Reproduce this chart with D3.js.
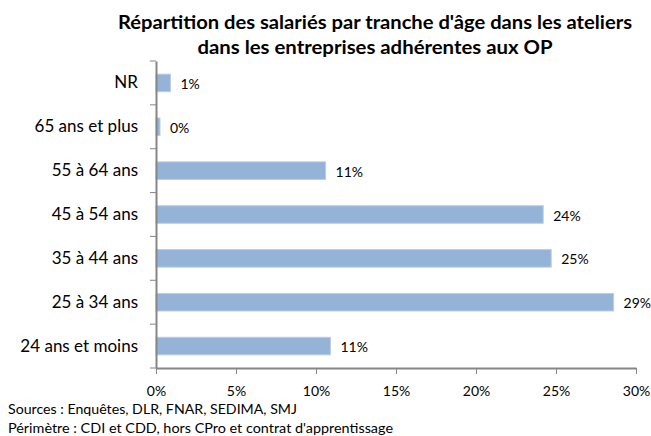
<!DOCTYPE html>
<html>
<head>
<meta charset="utf-8">
<script src="https://cdn.jsdelivr.net/npm/d3@7"></script>
<style>
  body { margin: 0; background: #fff; }
  svg { display: block; font-family: Lato, "Open Sans", sans-serif; }
</style>
</head>
<body>
<svg id="chart" width="651" height="436"></svg>
<script>
// data, top to bottom as shown
const categories = ['NR', '65 ans et plus', '55 à 64 ans', '45 à 54 ans', '35 à 44 ans', '25 à 34 ans', '24 ans et moins'];
const values = [0.9, 0.25, 10.6, 24.2, 24.7, 28.6, 10.9];
const valueLabels = ['1%', '0%', '11%', '24%', '25%', '29%', '11%'];
const xTicks = [0, 5, 10, 15, 20, 25, 30];
const titleLines = ["Répartition des salariés par tranche d'âge dans les ateliers", 'dans les entreprises adhérentes aux OP'];
const notes = ['Sources : Enquêtes, DLR, FNAR, SEDIMA, SMJ', "Périmètre : CDI et CDD, hors CPro et contrat d'apprentissage"];

const svg = d3.select('#chart');
const axisColor = '#868686';

const x = d3.scaleLinear().domain([0, 30]).range([156, 636]);
const y = d3.scaleBand().domain(categories).range([61, 368]).paddingInner(0.6).paddingOuter(0.3);

// title, widths matched to the original
const titleWidths = [514, 355];
svg.append('g')
  .selectAll('text')
  .data(titleLines)
  .enter()
  .append('text')
  .attr('x', 375)
  .attr('y', (d, i) => 29 + i * 25)
  .attr('text-anchor', 'middle')
  .attr('font-size', 19)
  .attr('font-weight', 'bold')
  .attr('fill', '#000')
  .attr('textLength', (d, i) => titleWidths[i])
  .attr('lengthAdjust', 'spacingAndGlyphs')
  .text(d => d);

// bars
svg.append('g')
  .selectAll('rect')
  .data(categories)
  .enter()
  .append('rect')
  .attr('x', x(0))
  .attr('y', d => y(d))
  .attr('width', (d, i) => x(values[i]) - x(0))
  .attr('height', y.bandwidth())
  .attr('fill', '#95b3d7')
  .attr('stroke', '#b9cde5')
  .attr('stroke-width', 1);

// value labels
svg.append('g')
  .selectAll('text')
  .data(categories)
  .enter()
  .append('text')
  .attr('x', (d, i) => x(values[i]) + 10)
  .attr('y', d => y(d) + y.bandwidth() / 2 + 6)
  .attr('font-size', 14)
  .attr('fill', '#000')
  .text((d, i) => valueLabels[i]);

// y axis
const yAxis = svg.append('g')
  .attr('transform', `translate(${x(0)},0)`)
  .call(d3.axisLeft(y).tickSize(0).tickPadding(18));
yAxis.select('.domain').attr('stroke', axisColor).attr('stroke-width', 2);
yAxis.selectAll('text').attr('font-size', 17).attr('fill', '#000').attr('font-family', 'Lato, sans-serif');

// category boundary ticks
const bounds = d3.range(categories.length + 1).map(i => y.range()[0] + i * (y.range()[1] - y.range()[0]) / categories.length);
svg.append('g')
  .selectAll('line')
  .data(bounds)
  .enter()
  .append('line')
  .attr('x1', x(0) - 6)
  .attr('x2', x(0))
  .attr('y1', d => d)
  .attr('y2', d => d)
  .attr('stroke', axisColor)
  .attr('stroke-width', 1);

// x axis
const xAxis = svg.append('g')
  .attr('transform', 'translate(0,368)')
  .call(d3.axisBottom(x).tickValues(xTicks).tickSize(6).tickSizeOuter(0).tickPadding(12).tickFormat(d => d + '%'));
xAxis.select('.domain').attr('stroke', axisColor).attr('stroke-width', 2);
xAxis.selectAll('.tick line').attr('stroke', axisColor);
xAxis.selectAll('text').attr('font-size', 14).attr('fill', '#000').attr('font-family', 'Lato, sans-serif');

// notes
const noteWidths = [289, 385];
svg.append('g')
  .selectAll('text')
  .data(notes)
  .enter()
  .append('text')
  .attr('x', 8)
  .attr('y', (d, i) => 414 + i * 19)
  .attr('font-size', 14)
  .attr('fill', '#000')
  .attr('textLength', (d, i) => noteWidths[i])
  .attr('lengthAdjust', 'spacingAndGlyphs')
  .text(d => d);
</script>
</body>
</html>
